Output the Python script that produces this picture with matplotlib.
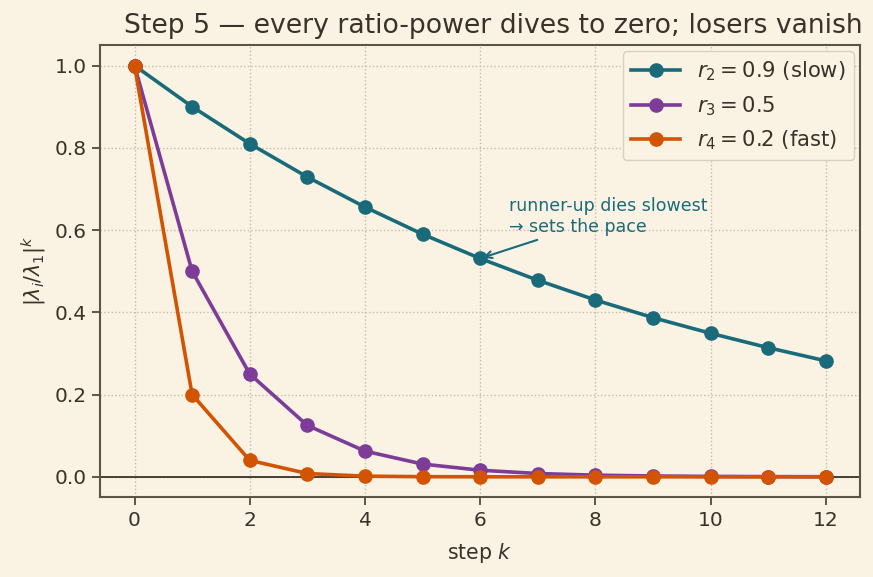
import matplotlib
matplotlib.use("Agg")
import matplotlib.pyplot as plt

k = [0, 1, 2, 3, 4, 5, 6, 7, 8, 9, 10, 11, 12]
r2_vals = [1.0, 0.9, 0.81, 0.729, 0.656, 0.59, 0.531, 0.478, 0.43, 0.387, 0.349, 0.314, 0.282]
r3_vals = [1.0, 0.5, 0.25, 0.125, 0.0625, 0.031, 0.016, 0.008, 0.004, 0.002, 0.001, 0.0005, 0.0002]
r4_vals = [1.0, 0.2, 0.04, 0.008, 0.0016, 0.0003, 0.0001, 0.0, 0.0, 0.0, 0.0, 0.0, 0.0]
labels = [r"$r_2 = 0.9$ (slow)", r"$r_3 = 0.5$", r"$r_4 = 0.2$ (fast)"]
colors = ["#1a6b7a", "#7d3c98", "#d35400"]

bg = "#faf3e4"
ink = "#3a3228"
spine = "#5e5444"

plt.rcParams['font.family'] = ['DejaVu Sans']
fig = plt.figure(figsize=(8.73, 5.77), dpi=100, facecolor=bg)
ax = fig.add_axes([0.1145, 0.138, 0.871, 0.784])
ax.set_facecolor(bg)

for vals, lab, c in zip([r2_vals, r3_vals, r4_vals], labels, colors):
    ax.plot(k, vals, marker='o', color=c, lw=2.6, ms=9.5, label=lab, zorder=3)

ax.axhline(0, color=ink, lw=1.3, zorder=2)
ax.set_xlim(-0.6, 12.6)
ax.set_ylim(-0.05, 1.05)
ax.set_xticks([0, 2, 4, 6, 8, 10, 12])
ax.set_yticks([0.0, 0.2, 0.4, 0.6, 0.8, 1.0])
ax.grid(True, ls=':', color='#c4bba8', lw=1.0, zorder=0)
for s in ax.spines.values():
    s.set_color(spine)
    s.set_linewidth(1.5)
ax.tick_params(colors=ink, labelsize=14.5, length=6, width=1.4, color=spine)

ax.set_title("Step 5 — every ratio-power dives to zero; losers vanish", fontsize=19.2, color=ink, pad=9, x=0.517)
ax.set_xlabel("step $k$", fontsize=14.8, color=ink, labelpad=8)
ax.set_ylabel(r"$|\lambda_i/\lambda_1|^k$", fontsize=14.8, color=ink, labelpad=5)

ax.annotate("runner-up dies slowest\n→ sets the pace", xy=(6, r2_vals[6]), xytext=(6.5, 0.585),
            fontsize=12.5, color=colors[0], va='bottom', ha='left',
            arrowprops=dict(arrowstyle='->', color=colors[0], lw=1.5))

leg = ax.legend(loc='upper right', fontsize=15.2, frameon=True, facecolor=bg, edgecolor='#d8cfbd',
                framealpha=1.0, handlelength=2.3, borderaxespad=0.3)
for t in leg.get_texts():
    t.set_color(ink)

fig.savefig("out.png", dpi=100, facecolor=bg)
